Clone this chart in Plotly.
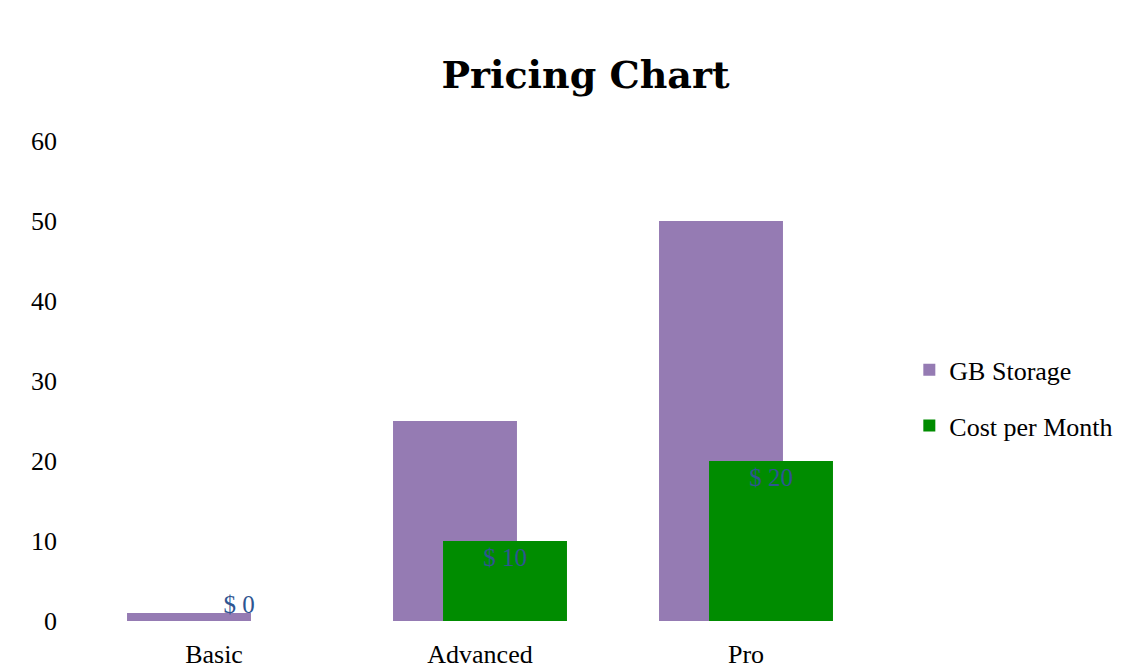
import plotly.graph_objects as go

categories = ["Basic", "Advanced", "Pro"]
gb_storage = [1, 25, 50]
cost_per_month = [0, 10, 20]
cost_labels = ["$ 0", "$ 10", "$ 20"]
y_ticks = [0, 10, 20, 30, 40, 50, 60]

FONT = "Liberation Serif"
TITLE_FONT = "DejaVu Serif"
LABEL_COLOR = "#2E5591"

fig = go.Figure()
fig.add_trace(go.Bar(
    x=categories, y=gb_storage, name="GB Storage", legendgroup="a",
    marker=dict(color="#957BB3", line=dict(width=0)),
    width=0.466, offset=-0.327,
))
fig.add_trace(go.Bar(
    x=categories, y=cost_per_month, name="Cost per Month", legendgroup="b",
    marker=dict(color="#008C00", line=dict(width=0)),
    width=0.466, offset=-0.139,
    text=cost_labels, textposition=["outside", "inside", "inside"],
    insidetextanchor="end", cliponaxis=False,
    textfont=dict(color=LABEL_COLOR, size=25, family=FONT),
    outsidetextfont=dict(color=LABEL_COLOR, size=25, family=FONT),
    insidetextfont=dict(color=LABEL_COLOR, size=25, family=FONT),
))

fig.update_layout(
    width=1126, height=669,
    barmode="overlay",
    paper_bgcolor="white", plot_bgcolor="white",
    font=dict(family=FONT, size=26, color="black"),
    margin=dict(l=81, r=247, t=141, b=48, autoexpand=False),
    title=dict(text="<b>Pricing Chart</b>", x=0.52, xanchor="center",
               y=1 - 75 / 669, yanchor="middle", yref="container",
               font=dict(size=38, family=TITLE_FONT, color="black")),
    xaxis=dict(showgrid=False, showline=False, zeroline=False, ticks="",
               tickfont=dict(size=26), ticklabelstandoff=15),
    yaxis=dict(range=[0, 60], tickvals=y_ticks, showgrid=False, showline=False,
               zeroline=False, ticks="", tickfont=dict(size=26), ticklabelstandoff=23),
    legend=dict(x=1.038, xanchor="left", y=0.465, yanchor="middle",
                font=dict(size=26), tracegroupgap=19, itemsizing="constant",
                bgcolor="rgba(0,0,0,0)"),
    showlegend=True,
)

fig.write_html("out.html")
